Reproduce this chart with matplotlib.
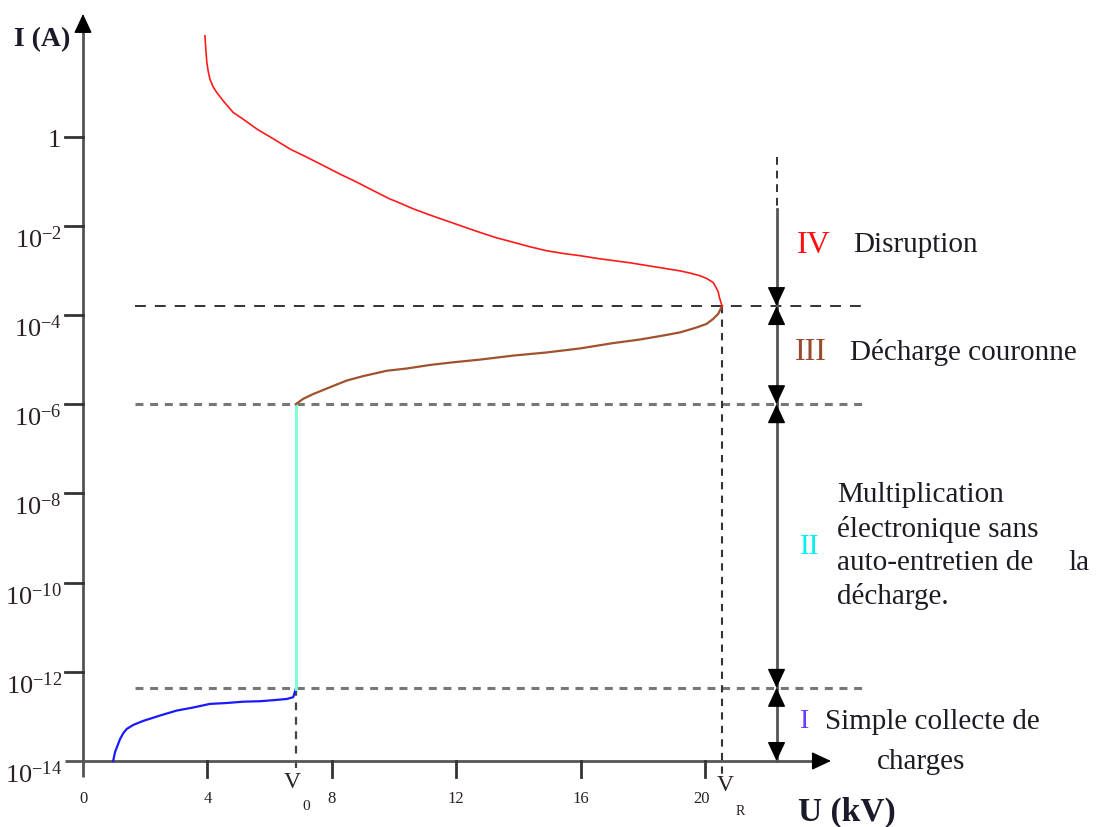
import numpy as np
import matplotlib
matplotlib.use('Agg')
import matplotlib.pyplot as plt

plt.rcParams['font.family'] = ['Liberation Serif', 'DejaVu Serif']
plt.rcParams['mathtext.fontset'] = 'custom'
plt.rcParams['mathtext.rm'] = 'Liberation Serif'

# ---------------- data (U in kV, log10 of I in A) ----------------
blue_u = [0.97, 1.03, 1.19, 1.30, 1.41, 1.62, 1.94, 2.48, 3.01, 3.55, 4.08, 4.62, 5.15,
          5.69, 6.23, 6.55, 6.76, 6.84]
blue_logI = [-14.0, -13.80, -13.51, -13.37, -13.28, -13.19, -13.10, -12.98, -12.87, -12.80,
             -12.72, -12.70, -12.67, -12.66, -12.63, -12.61, -12.57, -12.39]

V0 = 6.84
VR = 20.55
cyan_u = [V0, V0]
cyan_logI = [-12.39, -6.0]

brown_u = [6.84, 7.08, 7.41, 7.94, 8.48, 9.01, 9.77, 10.41, 11.16, 11.91, 12.77, 13.84,
           14.91, 15.98, 17.05, 17.91, 18.66, 19.20, 19.73, 20.05, 20.26, 20.42, 20.55]
brown_logI = [-6.00, -5.88, -5.77, -5.62, -5.47, -5.37, -5.25, -5.20, -5.12, -5.06, -5.00,
              -4.91, -4.84, -4.75, -4.63, -4.55, -4.46, -4.39, -4.28, -4.20, -4.09, -3.98, -3.80]

red_u = [3.92, 3.95, 3.98, 4.03, 4.08, 4.18, 4.30, 4.51, 4.83, 5.15, 5.59, 6.12, 6.66, 7.19,
         7.73, 8.26, 8.80, 9.33, 9.87, 10.09, 10.62, 11.16, 11.70, 12.23, 12.77, 13.30, 13.84,
         14.37, 14.91, 15.44, 15.98, 16.52, 17.05, 17.59, 18.12, 18.66, 19.19, 19.52, 19.84,
         20.05, 20.26, 20.32, 20.43, 20.46, 20.55]
red_logI = [2.26, 1.95, 1.67, 1.45, 1.29, 1.12, 0.99, 0.80, 0.54, 0.39, 0.17, -0.05, -0.28,
            -0.46, -0.65, -0.84, -1.02, -1.21, -1.40, -1.46, -1.62, -1.76, -1.89, -2.02, -2.15,
            -2.27, -2.37, -2.47, -2.56, -2.62, -2.67, -2.73, -2.78, -2.83, -2.89, -2.95, -3.01,
            -3.06, -3.12, -3.18, -3.27, -3.34, -3.49, -3.60, -3.80]

boundaries_logI = [-3.80, -6.0, -12.36]       # region limits (dashed lines)
x_ticks = [0, 4, 8, 12, 16, 20]
y_tick_exp = [0, -2, -4, -6, -8, -10, -12, -14]
region_names = ['IV', 'III', 'II', 'I']
region_colors = ['#ff1010', '#9a4a2a', '#00f0f0', '#6a3cff']

# ---------------- figure ----------------
fig = plt.figure(figsize=(10.98, 8.28), dpi=100)
ax = fig.add_axes([0, 0, 1, 1])
ax.set_yscale('log')
ax.set_xlim(-2.669, 32.637)
ax.set_ylim(10 ** -15.48, 10 ** 3.085)
ax.axis('off')

P = lambda e: 10.0 ** np.asarray(e, dtype=float)
AX = '#555555'

def head(x, y, dx, dy):
    ax.annotate('', xy=(x, y), xytext=(dx, dy), textcoords='offset points',
                arrowprops=dict(arrowstyle='-|>,head_length=0.6,head_width=0.28',
                                fc='black', ec='black', lw=1, shrinkA=0, shrinkB=0,
                                mutation_scale=20), zorder=6)

# axes
ax.plot([0, 0], P([-14.36, 2.5]), color=AX, lw=2.0, solid_capstyle='butt', zorder=4)
head(0, P(2.75), 0, -13)
ax.plot([-0.58, 23.7], P([-14, -14]), color=AX, lw=2.0, solid_capstyle='butt', zorder=4)
head(24.05, P(-14), -13, 0)

# ticks
for e in y_tick_exp[:-1]:
    ax.plot([-0.58, 0], P([e, e]), color='#333333', lw=2.0, zorder=4)
for t in x_ticks[1:]:
    ax.plot([t, t], P([-14, -14.36]), color='#333333', lw=2.0, zorder=4)

for e in y_tick_exp:
    if e == 0:
        ax.text(-0.72, P(e - 0.2), '1', ha='right', va='baseline', fontsize=19, color='#2a2020')
    else:
        ax.text(-0.68, P(e - 0.47), r'$\mathregular{10^{%d}}$' % e, ha='right', va='baseline',
                fontsize=19, color='#2a2020')
for t in x_ticks:
    ax.text(t - (0.12 if t == 20 else 0), P(-14.83), str(t), ha='center', va='center',
            fontsize=12, color='#2a2020')

# axis titles
ax.text(-1.32, P(2.19), 'I (A)', ha='center', va='center', fontsize=20, fontweight='bold',
        color='#1a1a2a')
ax.text(24.57, P(-15.12), 'U (kV)', ha='center', va='center', fontsize=24, fontweight='bold',
        color='#1a1a2a')

# V0 and VR labels
ax.text(6.72, P(-14.47), 'V', ha='center', va='center', fontsize=17, color='#2a2020')
ax.text(7.17, P(-14.99), '0', ha='center', va='center', fontsize=11, color='#2a2020')
ax.text(20.64, P(-14.52), 'V', ha='center', va='center', fontsize=17, color='#2a2020')
ax.text(21.13, P(-15.12), 'R', ha='center', va='center', fontsize=10, color='#2a2020')

# dashed region boundaries
ax.plot([1.67, 25.1], P([boundaries_logI[0]] * 2), color='#222222', lw=1.3,
        ls=(0, (6, 5)), zorder=3)
for b in boundaries_logI[1:]:
    ax.plot([1.67, 25.1], P([b, b]), color='#777777', lw=2.2, ls=(0, (2.6, 2.2)), zorder=3)

# vertical dashed lines at V0 and VR
ax.plot([VR, VR], P([boundaries_logI[0], -14.3]), color='#333333', lw=1.5,
        ls=(0, (3.5, 3)), zorder=3)
ax.plot([V0, V0], P([boundaries_logI[2], -14.3]), color='#444444', lw=1.6,
        ls=(0, (3.5, 3)), zorder=3)

# region arrows
xa = 22.3
ax.plot([xa, xa], P([-0.46, -1.62]), color='#333333', lw=1.4, ls=(0, (4, 3)), zorder=3)
ax.plot([xa, xa], P([-1.62, boundaries_logI[0]]), color=AX, lw=2.0, zorder=4)
head(xa, P(boundaries_logI[0]), 0, 13)
levels = boundaries_logI + [-14.0]
for top, bot in zip(levels[:-1], levels[1:]):
    ax.plot([xa, xa], P([top, bot]), color=AX, lw=2.0, zorder=4)
    head(xa, P(top), 0, -13)
    head(xa, P(bot), 0, 13)

# curves
ax.plot(blue_u, P(blue_logI), color='#1a1aff', lw=1.6, zorder=5, solid_joinstyle='round')
ax.plot(cyan_u, P(cyan_logI), color='#7fffd0', lw=2.2, zorder=5)
ax.plot(brown_u, P(brown_logI), color='#a0522d', lw=1.6, zorder=5, solid_joinstyle='round')
ax.plot(red_u, P(red_logI), color='#ff1a1a', lw=1.2, zorder=5, solid_joinstyle='round')

# region texts
TXT = '#1c1c24'
ax.text(22.96, P(-2.41), region_names[0], color=region_colors[0], fontsize=23, va='center', ha='left')
ax.text(24.76, P(-2.41), 'Disruption', color=TXT, fontsize=21, va='center', ha='left')
ax.text(22.89, P(-4.81), region_names[1], color=region_colors[1], fontsize=23, va='center', ha='left')
ax.text(24.66, P(-4.81), 'Décharge couronne', color=TXT, fontsize=21, va='center', ha='left')
ax.text(23.05, P(-9.18), region_names[2], color=region_colors[2], fontsize=21, va='center', ha='left')
ax.text(24.24, P(-8.01), 'Multiplication', color=TXT, fontsize=21, va='center', ha='left')
ax.text(24.24, P(-8.78), 'électronique sans', color=TXT, fontsize=21, va='center', ha='left')
ax.text(24.24, P(-9.54), 'auto-entretien de', color=TXT, fontsize=21, va='center', ha='left')
ax.text(31.67, P(-9.54), 'la', color=TXT, fontsize=21, va='center', ha='left')
ax.text(24.24, P(-10.30), 'décharge.', color=TXT, fontsize=21, va='center', ha='left')
ax.text(23.05, P(-13.10), region_names[3], color=region_colors[3], fontsize=20, va='center', ha='left')
ax.text(23.86, P(-13.10), 'Simple collecte de', color=TXT, fontsize=21, va='center', ha='left')
ax.text(25.53, P(-14.0), 'charges', color=TXT, fontsize=21, va='center', ha='left')

fig.savefig('out.png', dpi=100)
